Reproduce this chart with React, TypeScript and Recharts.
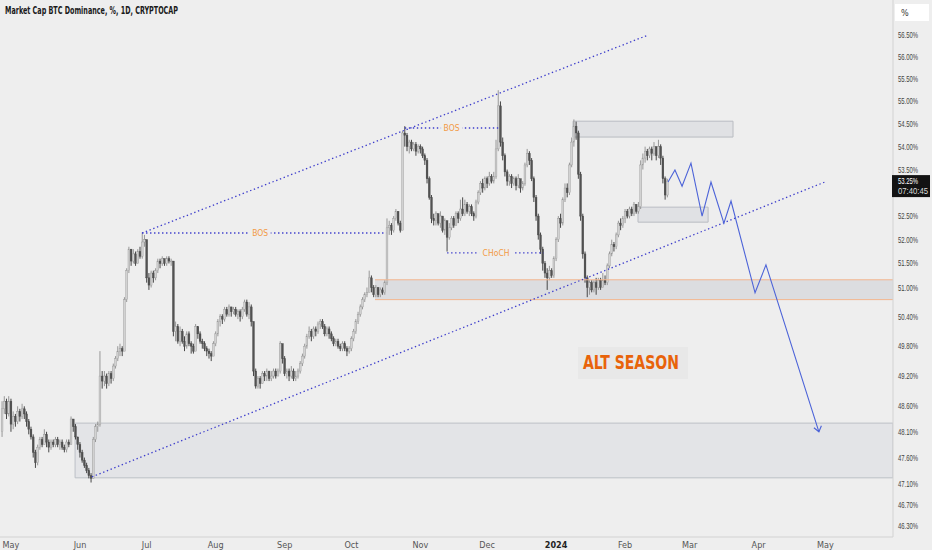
import React from "react";
import {
  ComposedChart,
  Bar,
  Line,
  XAxis,
  YAxis,
  ReferenceLine,
  ReferenceArea,
  ReferenceDot,
} from "recharts";

// day 0 = 1 May 2023, first candle is 27 Apr 2023
const firstDay = -4;
const firstOpen = 48.1;

// daily candles as [close, high, low]; open = previous close
const apr23 = [[48.55, 48.7, 48.0], [48.7, 48.8, 48.45], [48.45, 48.75, 48.35], [48.7, 48.8, 48.4]];
const may23 = [
  [48.25, 48.75, 48.1], [48.4, 48.5, 48.15], [48.3, 48.45, 48.2], [48.5, 48.6, 48.25], [48.4, 48.55, 48.3],
  [48.55, 48.65, 48.35], [48.45, 48.6, 48.35], [48.3, 48.5, 48.2], [48.15, 48.35, 48.05], [48.0, 48.2, 47.95],
  [47.7, 48.05, 47.6], [47.5, 47.75, 47.4], [47.8, 47.85, 47.45], [47.95, 48.0, 47.75], [47.85, 48.0, 47.8],
  [48.05, 48.15, 47.85], [47.9, 48.1, 47.8], [47.8, 47.95, 47.7], [47.9, 47.95, 47.75], [47.85, 47.95, 47.8],
  [47.95, 48.0, 47.8], [47.85, 48.0, 47.8], [47.9, 47.95, 47.75], [47.8, 47.95, 47.75], [47.75, 47.85, 47.7],
  [47.9, 47.95, 47.7], [47.85, 47.95, 47.8], [48.35, 48.4, 47.85], [48.2, 48.35, 48.1], [48.0, 48.25, 47.95],
  [47.85, 48.0, 47.75],
];
const jun23 = [
  [47.7, 47.9, 47.6], [47.55, 47.75, 47.5], [47.45, 47.6, 47.4], [47.35, 47.5, 47.3], [47.25, 47.4, 47.2],
  [47.2, 47.3, 47.12], [47.95, 48.0, 47.2], [48.2, 48.25, 47.9], [48.25, 48.3, 48.1], [49.2, 49.7, 48.2],
  [49.1, 49.3, 48.95], [49.2, 49.3, 49.0], [49.05, 49.25, 48.95], [49.25, 49.3, 49.0], [49.15, 49.3, 49.05],
  [49.4, 49.45, 49.1], [49.55, 49.6, 49.35], [49.7, 49.8, 49.5], [49.75, 49.85, 49.6], [49.7, 49.8, 49.6],
  [50.75, 50.8, 49.7], [51.35, 51.4, 50.7], [51.8, 51.85, 51.3], [51.55, 51.8, 51.45], [51.7, 51.8, 51.5],
  [51.5, 51.75, 51.45], [51.75, 51.8, 51.5], [51.65, 51.85, 51.6], [51.95, 52.15, 51.6], [52.0, 52.1, 51.85],
];
const jul23 = [
  [51.2, 52.0, 51.1], [51.05, 51.3, 50.95], [51.3, 51.35, 51.0], [51.2, 51.35, 51.1], [51.35, 51.4, 51.15],
  [51.55, 51.6, 51.3], [51.5, 51.6, 51.4], [51.6, 51.65, 51.45], [51.5, 51.6, 51.45], [51.6, 51.65, 51.45],
  [51.55, 51.65, 51.5], [51.55, 51.6, 51.45], [50.1, 51.55, 50.0], [50.2, 50.3, 49.9], [49.9, 50.25, 49.85],
  [50.1, 50.2, 49.8], [49.9, 50.15, 49.85], [49.8, 50.0, 49.7], [50.05, 50.1, 49.75], [49.85, 50.1, 49.8],
  [49.8, 49.9, 49.65], [49.7, 49.85, 49.65], [50.2, 50.25, 49.7], [50.05, 50.2, 49.95], [49.9, 50.1, 49.85],
  [49.85, 49.95, 49.75], [49.75, 49.9, 49.7], [49.7, 49.8, 49.6], [49.65, 49.75, 49.55], [49.6, 49.7, 49.5],
  [49.85, 49.9, 49.6],
];
const aug23 = [
  [50.05, 50.1, 49.8], [50.3, 50.35, 50.0], [50.4, 50.45, 50.2], [50.35, 50.45, 50.25], [50.55, 50.6, 50.3],
  [50.45, 50.6, 50.4], [50.6, 50.65, 50.4], [50.5, 50.6, 50.4], [50.55, 50.6, 50.45], [50.45, 50.6, 50.4],
  [50.5, 50.55, 50.35], [50.4, 50.55, 50.3], [50.55, 50.6, 50.35], [50.7, 50.75, 50.5], [50.45, 50.75, 50.4],
  [50.6, 50.7, 50.35], [50.3, 50.65, 50.2], [49.3, 50.3, 49.2], [49.0, 49.35, 48.95], [49.15, 49.2, 48.95],
  [49.05, 49.2, 48.95], [49.25, 49.3, 49.05], [49.2, 49.3, 49.1], [49.3, 49.35, 49.1], [49.15, 49.3, 49.1],
  [49.2, 49.3, 49.1], [49.3, 49.35, 49.15], [49.2, 49.35, 49.15], [49.3, 49.35, 49.2], [49.85, 49.9, 49.25],
  [49.55, 49.85, 49.45],
];
const sep23 = [
  [49.25, 49.6, 49.2], [49.3, 49.35, 49.15], [49.2, 49.35, 49.1], [49.3, 49.4, 49.15], [49.15, 49.35, 49.1],
  [49.2, 49.3, 49.1], [49.3, 49.35, 49.15], [49.45, 49.5, 49.25], [49.6, 49.65, 49.4], [49.8, 49.85, 49.55],
  [50.0, 50.05, 49.75], [50.1, 50.2, 49.95], [50.0, 50.15, 49.9], [50.15, 50.2, 49.95], [50.1, 50.2, 50.0],
  [50.25, 50.3, 50.05], [50.3, 50.35, 50.15], [50.2, 50.35, 50.15], [50.05, 50.25, 50.0], [50.15, 50.2, 50.0],
  [50.05, 50.2, 49.95], [49.95, 50.1, 49.9], [49.85, 50.0, 49.8], [49.9, 49.95, 49.8], [49.8, 49.95, 49.75],
  [49.75, 49.85, 49.7], [49.85, 49.9, 49.7], [49.75, 49.9, 49.7], [49.7, 49.8, 49.6], [49.75, 49.8, 49.65],
];
const oct23 = [
  [49.95, 50.0, 49.7], [50.1, 50.15, 49.9], [50.3, 50.35, 50.05], [50.45, 50.5, 50.25], [50.6, 50.65, 50.4],
  [50.75, 50.8, 50.55], [50.85, 50.9, 50.7], [50.9, 51.0, 50.8], [51.2, 51.35, 50.9], [51.0, 51.25, 50.9],
  [50.85, 51.05, 50.8], [51.0, 51.05, 50.8], [50.85, 51.0, 50.8], [50.95, 51.0, 50.8], [50.9, 51.0, 50.85],
  [51.1, 51.15, 50.85], [52.25, 52.45, 51.05], [52.3, 52.4, 52.1], [52.2, 52.35, 52.1], [52.45, 52.5, 52.15],
  [52.6, 52.65, 52.4], [52.35, 52.6, 52.3], [52.2, 52.4, 52.15], [54.3, 54.35, 52.2], [54.25, 54.45, 54.0],
  [54.0, 54.3, 53.9], [54.1, 54.15, 53.85], [53.95, 54.15, 53.9], [54.05, 54.1, 53.9], [53.9, 54.1, 53.8],
  [54.0, 54.05, 53.85],
];
const nov23 = [
  [53.95, 54.05, 53.85], [53.8, 54.0, 53.75], [53.7, 53.85, 53.6], [53.3, 53.75, 53.2], [52.9, 53.35, 52.85],
  [52.45, 52.95, 52.35], [52.4, 52.55, 52.3], [52.55, 52.6, 52.3], [52.35, 52.55, 52.3], [52.5, 52.6, 52.25],
  [52.2, 52.5, 52.15], [52.4, 52.45, 52.1], [52.05, 52.4, 51.75], [52.25, 52.35, 52.0], [52.45, 52.5, 52.2],
  [52.3, 52.5, 52.25], [52.55, 52.6, 52.3], [52.45, 52.6, 52.35], [52.65, 52.85, 52.4], [52.55, 52.9, 52.5],
  [52.75, 52.85, 52.5], [52.6, 52.8, 52.55], [52.7, 52.75, 52.5], [52.55, 52.75, 52.5], [52.5, 52.6, 52.4],
  [52.8, 52.85, 52.45], [53.0, 53.05, 52.75], [53.2, 53.25, 52.95], [53.1, 53.3, 53.0], [53.3, 53.35, 53.05],
];
const dec23 = [
  [53.2, 53.35, 53.1], [53.35, 53.45, 53.15], [53.25, 53.4, 53.2], [53.35, 53.45, 53.2], [53.95, 54.15, 53.3],
  [54.9, 55.25, 53.9], [54.1, 55.0, 54.0], [53.8, 54.2, 53.7], [53.45, 53.85, 53.35], [53.25, 53.5, 53.15],
  [53.35, 53.4, 53.15], [53.2, 53.4, 53.1], [53.3, 53.35, 53.15], [53.15, 53.35, 53.05], [53.3, 53.4, 53.1],
  [53.1, 53.3, 53.0], [53.2, 53.25, 53.05], [53.6, 53.65, 53.15], [53.85, 53.95, 53.55], [53.7, 53.9, 53.6],
  [53.3, 53.75, 53.25], [52.9, 53.35, 52.8], [52.5, 52.95, 52.4], [52.1, 52.55, 52.0], [51.8, 52.15, 51.7],
  [51.5, 51.85, 51.35], [51.3, 51.55, 51.2], [51.2, 51.4, 50.95], [51.35, 51.45, 51.15], [51.25, 51.4, 51.2],
  [51.6, 51.65, 51.2],
];
const jan24 = [
  [52.0, 52.05, 51.55], [52.45, 52.5, 51.95], [52.35, 52.55, 52.25], [52.85, 52.9, 52.3], [53.1, 53.2, 52.8],
  [53.0, 53.2, 52.9], [53.6, 53.65, 52.95], [54.1, 54.2, 53.55], [54.45, 54.6, 54.0], [54.3, 54.55, 54.15],
  [53.4, 54.35, 53.3], [52.5, 53.45, 52.4], [51.7, 52.55, 51.6], [51.2, 51.75, 51.1], [51.0, 51.25, 50.8],
  [51.1, 51.15, 50.85], [50.95, 51.15, 50.9], [51.1, 51.15, 50.9], [51.0, 51.2, 50.85], [51.15, 51.2, 50.95],
  [51.0, 51.2, 50.95], [51.15, 51.3, 51.0], [51.1, 51.25, 51.05], [51.45, 51.5, 51.05], [51.7, 51.75, 51.4],
  [51.9, 52.0, 51.65], [51.85, 51.95, 51.75], [52.1, 52.15, 51.8], [52.35, 52.4, 52.05], [52.3, 52.45, 52.2],
  [52.45, 52.5, 52.25],
];
const feb24 = [
  [52.6, 52.65, 52.35], [52.5, 52.65, 52.45], [52.65, 52.7, 52.45], [52.55, 52.7, 52.5], [52.75, 52.8, 52.5],
  [52.6, 52.75, 52.55], [52.7, 52.8, 52.55], [53.6, 53.7, 52.65], [53.75, 53.85, 53.5], [53.9, 54.0, 53.65],
  [53.8, 53.95, 53.7], [53.95, 54.0, 53.75], [53.85, 54.0, 53.7], [54.0, 54.1, 53.8], [53.8, 54.0, 53.7],
  [54.0, 54.15, 53.75], [53.75, 54.05, 53.6], [53.3, 53.8, 53.2], [52.95, 53.35, 52.85], [53.25, 53.3, 52.9],
];

// month starts (day index) and their labels
const monthTicks = [0, 31, 61, 92, 123, 153, 184, 214, 245, 276, 305, 336, 366];
const monthLabels = ["May", "Jun", "Jul", "Aug", "Sep", "Oct", "Nov", "Dec", "2024", "Feb", "Mar", "Apr", "May"];
const priceTicks = [56.5, 56, 55.5, 55, 54.5, 54, 53.5, 53.25, 52.5, 52, 51.5, 51, 50.4, 49.8, 49.2, 48.6, 48.1, 47.6, 47.1, 46.7, 46.3];
const lastPrice = 53.25;
const countdown = "07:40:45";

// hand-drawn projection (day index, value)
const projDays = [295.3, 298.4, 301.6, 305.6, 310.6, 314.6, 320.4, 323.6, 334.4, 339.3, 363.1];
const projValues = [53.23, 53.49, 53.14, 53.64, 52.5, 53.23, 52.35, 52.82, 50.89, 51.47, 48.1];

// trend channel, [day, value] end points
const upperChannel = [[58.9, 52.14], [286.3, 56.5]];
const lowerChannel = [[36.4, 47.23], [365.8, 53.23]];

// structure levels: [from day, to day, value, label day]
const bosLow = [58.9, 168.6, 52.14, 112];
const bosHigh = [177, 219.3, 54.41, 198];
const choch = [196, 239.3, 51.72, 218];

// zones: [from day, to day, low, high]
const demandZone = [28.8, 396.4, 47.21, 48.27];
const supportZone = [163.6, 396.4, 50.75, 51.16];
const supplyZone = [252.6, 324.5, 54.21, 54.56];
const retestZone = [281.8, 313.3, 52.37, 52.69];

const X_DOMAIN = [-4.94, 396.4];
const Y_DOMAIN = [46.09, 57.31];

const BG = "#eeeeee";
const BLUE = "#3d3dcc";
const ORANGE = "#f29a45";
const FONT = "'Liberation Sans Narrow', 'DejaVu Sans Condensed', 'Open Sans', sans-serif";
const AXIS_FONT = "'Liberation Sans', Arial, sans-serif";

const candles = [apr23, may23, jun23, jul23, aug23, sep23, oct23, nov23, dec23, jan24, feb24]
  .flat()
  .map((c, i, all) => {
    const open = i === 0 ? firstOpen : all[i - 1][0];
    return { d: firstDay + i, open, close: c[0], high: c[1], low: c[2], range: [c[2], c[1]] };
  });

const projection = projDays.map((d, i) => ({ d, v: projValues[i] }));

const Candle = (props: any) => {
  const { x, y, width, height, payload } = props;
  if (!payload) return <g />;
  const { open, close, high, low } = payload;
  const cx = x + width / 2;
  const top = Math.min(y, y + height);
  const bot = Math.max(y, y + height);
  const span = Math.log(high) - Math.log(low);
  const toY = (v: number) => (span > 0 ? top + ((Math.log(high) - Math.log(v)) / span) * (bot - top) : top);
  const yo = toY(open);
  const yc = toY(close);
  const up = close >= open;
  const edge = up ? "#979797" : "#474747";
  return (
    <g>
      <line x1={cx} x2={cx} y1={top} y2={bot} stroke={edge} strokeWidth={1} />
      <rect
        x={cx - 0.9}
        y={Math.min(yo, yc)}
        width={1.8}
        height={Math.max(Math.abs(yo - yc), 0.8)}
        fill={up ? "#d2d2d2" : "#525252"}
        stroke={edge}
        strokeWidth={0.4}
      />
    </g>
  );
};

const MonthTick = (props: any) => {
  const { x, y, payload } = props;
  const label = monthLabels[monthTicks.indexOf(payload.value)];
  const bold = label === "2024";
  return (
    <text x={x} y={y + 9} textAnchor="middle" fontSize={9} fontFamily={FONT} fill={bold ? "#222" : "#555"} fontWeight={bold ? 700 : 400}>
      {label}
    </text>
  );
};

// narrow axis text, squeezed with a transform so its box stays honest
const AxisText = ({ x, y, sx, fill, children }: any) => (
  <text transform={`translate(${x},${y}) scale(${sx},1)`} fontSize={9} fontFamily={AXIS_FONT} fill={fill}>
    {children}
  </text>
);

const PriceTick = (props: any) => {
  const { x, y, payload } = props;
  const v = payload.value;
  if (v === lastPrice) {
    return (
      <g>
        <rect x={x - 6} y={y - 6} width={38} height={22} fill="#131313" />
        <AxisText x={x} y={y + 3} sx={0.66} fill="#ffffff">{`${v.toFixed(2)}%`}</AxisText>
        <AxisText x={x} y={y + 13} sx={0.86} fill="#dddddd">{countdown}</AxisText>
      </g>
    );
  }
  return <AxisText x={x} y={y + 3} sx={0.66} fill="#444444">{`${v.toFixed(2)}%`}</AxisText>;
};

const ArrowDot = (props: any) => {
  const { cx, cy, index } = props;
  if (index !== projection.length - 1) return <g key={`p${index}`} />;
  return <path key="arrow" d={`M ${cx - 5} ${cy - 4} L ${cx} ${cy} L ${cx + 2.5} ${cy - 6}`} stroke="#4c63d8" strokeWidth={1.1} fill="none" />;
};

const levelLabel = (text: string, w: number) => (p: any) => (
  <g>
    <rect x={p.cx - w / 2 - 4} y={p.cy - 5} width={w + 8} height={10} fill={BG} />
    <text x={p.cx} y={p.cy + 3} textAnchor="middle" fontSize={8.5} fontFamily={FONT} fill={ORANGE}>
      {text}
    </text>
  </g>
);

const zoneArea = (z: number[], fill: string, stroke: string) => (
  <ReferenceArea x1={z[0]} x2={z[1]} y1={z[2]} y2={z[3]} fill={fill} fillOpacity={1} stroke={stroke} strokeWidth={1} ifOverflow="hidden" />
);

export default function App() {
  return (
    <div style={{ position: "relative", width: 932, height: 550, background: BG }}>
      <style>{"body{margin:0}"}</style>
      <ComposedChart width={932} height={550} data={candles} margin={{ top: 0, right: 0, bottom: 0, left: 0 }}>
        <XAxis
          type="number"
          dataKey="d"
          domain={X_DOMAIN}
          allowDataOverflow
          ticks={monthTicks}
          interval={0}
          tick={<MonthTick />}
          tickLine={false}
          tickSize={0}
          axisLine={{ stroke: "#d2d2d2" }}
          height={13}
        />
        <YAxis
          orientation="right"
          type="number"
          scale="log"
          domain={Y_DOMAIN}
          allowDataOverflow
          ticks={priceTicks}
          interval={0}
          tick={<PriceTick />}
          tickLine={false}
          tickSize={0}
          tickMargin={5}
          axisLine={{ stroke: "#d2d2d2" }}
          width={39}
        />
        {zoneArea(demandZone, "#e3e4e7", "#bcc0c6")}
        {zoneArea(supportZone, "#dcdde0", "none")}
        {zoneArea(supplyZone, "#e0e1e4", "#b9bcc2")}
        {zoneArea(retestZone, "#e0e1e4", "#b9bcc2")}
        <ReferenceLine segment={[{ x: supportZone[0], y: supportZone[3] }, { x: supportZone[1], y: supportZone[3] }]} stroke="#f3b58e" strokeWidth={1} ifOverflow="hidden" />
        <ReferenceLine segment={[{ x: supportZone[0], y: supportZone[2] }, { x: supportZone[1], y: supportZone[2] }]} stroke="#f3b58e" strokeWidth={1} ifOverflow="hidden" />
        <Bar dataKey="range" barSize={2} shape={<Candle />} isAnimationActive={false} />
        <ReferenceLine
          segment={[{ x: upperChannel[0][0], y: upperChannel[0][1] }, { x: upperChannel[1][0], y: upperChannel[1][1] }]}
          stroke={BLUE}
          strokeWidth={1.3}
          strokeDasharray="1.4 2.6"
          ifOverflow="visible"
        />
        <ReferenceLine
          segment={[{ x: lowerChannel[0][0], y: lowerChannel[0][1] }, { x: lowerChannel[1][0], y: lowerChannel[1][1] }]}
          stroke={BLUE}
          strokeWidth={1.3}
          strokeDasharray="1.4 2.6"
          ifOverflow="visible"
        />
        {[bosLow, bosHigh, choch].map((lv, i) => (
          <ReferenceLine
            key={`lv${i}`}
            segment={[{ x: lv[0], y: lv[2] }, { x: lv[1], y: lv[2] }]}
            stroke={BLUE}
            strokeWidth={1.3}
            strokeDasharray="1.4 2.6"
            ifOverflow="visible"
          />
        ))}
        <ReferenceDot x={bosLow[3]} y={bosLow[2]} r={0} shape={levelLabel("BOS", 13)} />
        <ReferenceDot x={bosHigh[3]} y={bosHigh[2]} r={0} shape={levelLabel("BOS", 13)} />
        <ReferenceDot x={choch[3]} y={choch[2]} r={0} shape={levelLabel("CHoCH", 26)} />
        <Line
          data={projection}
          dataKey="v"
          type="linear"
          stroke="#4c63d8"
          strokeWidth={1.1}
          dot={<ArrowDot />}
          activeDot={false}
          isAnimationActive={false}
        />
      </ComposedChart>
      <svg width={932} height={550} style={{ position: "absolute", left: 0, top: 0, pointerEvents: "none" }}>
        <text x={5} y={14} fontSize={10.5} fontFamily={FONT} fontWeight={700} fill="#1a1a1a" textLength={173} lengthAdjust="spacingAndGlyphs">
          Market Cap BTC Dominance, %, 1D, CRYPTOCAP
        </text>
        <rect x={895} y={4} width={34} height={17} fill="#ffffff" />
        <text x={901} y={16} fontSize={9} fontFamily={FONT} fill="#333">
          %
        </text>
        <rect x={578} y={347} width={110} height={32} fill="#e8e8e8" />
        <text x={583} y={369} fontSize={20} fontFamily={FONT} fontWeight={700} fill="#e8630a" textLength={96} lengthAdjust="spacingAndGlyphs">
          ALT SEASON
        </text>
      </svg>
    </div>
  );
}
